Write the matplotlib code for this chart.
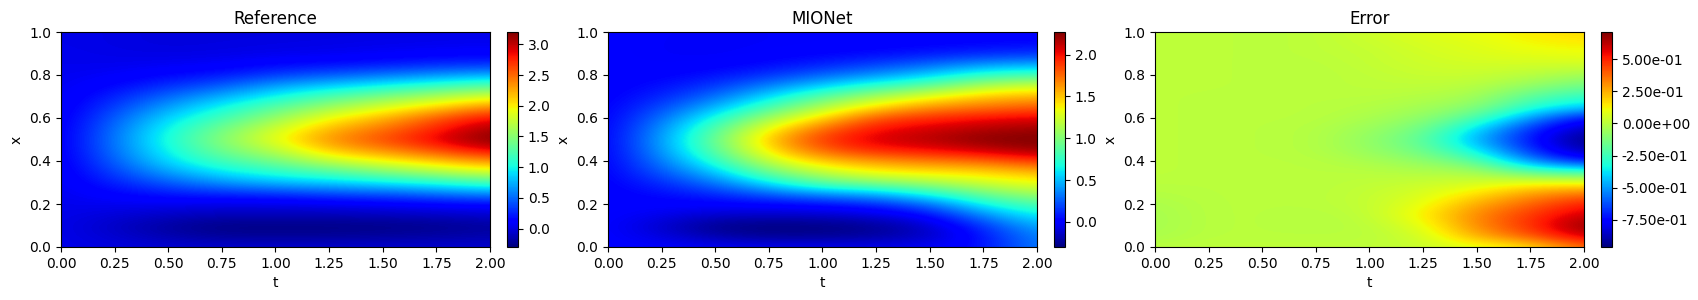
import numpy as np
import matplotlib
matplotlib.use("Agg")
import matplotlib.pyplot as plt

W, H = 1699, 300

titles = ["Reference", "MIONet", "Error"]
t_values = [0.0, 0.25, 0.5, 0.75, 1.0, 1.25, 1.5, 1.75, 2.0]
x_values = [0.0, 0.05, 0.1, 0.15, 0.2, 0.25, 0.3, 0.35, 0.4, 0.45, 0.5,
            0.55, 0.6, 0.65, 0.7, 0.75, 0.8, 0.85, 0.9, 0.95, 1.0]

# one line per t (t_values), each line runs along x (x_values)
u_reference = [
    [0.03, 0.03, 0.03, 0.03, 0.04, 0.04, 0.05, 0.05, 0.05, 0.05, 0.05, 0.05, 0.05, 0.05, 0.05, 0.05, 0.05, 0.04, 0.04, 0.03, 0.03],
    [0.0, -0.05, -0.08, -0.02, 0.05, 0.14, 0.25, 0.36, 0.46, 0.53, 0.55, 0.52, 0.45, 0.35, 0.25, 0.15, 0.08, 0.04, 0.02, 0.01, 0.01],
    [-0.04, -0.15, -0.20, -0.08, 0.05, 0.22, 0.45, 0.70, 0.90, 1.00, 1.05, 1.00, 0.88, 0.70, 0.50, 0.30, 0.15, 0.06, 0.01, -0.01, -0.01],
    [-0.05, -0.22, -0.28, -0.12, 0.02, 0.28, 0.65, 0.95, 1.20, 1.40, 1.50, 1.40, 1.20, 1.00, 0.75, 0.45, 0.22, 0.08, 0.02, 0.0, -0.01],
    [-0.05, -0.22, -0.28, -0.12, 0.03, 0.32, 0.78, 1.10, 1.40, 1.70, 1.90, 1.80, 1.55, 1.30, 1.00, 0.70, 0.35, 0.15, 0.04, 0.01, 0.0],
    [-0.05, -0.22, -0.28, -0.12, 0.05, 0.40, 0.85, 1.25, 1.75, 2.15, 2.35, 2.20, 1.95, 1.60, 1.25, 0.85, 0.45, 0.18, 0.05, 0.02, 0.0],
    [-0.05, -0.20, -0.27, -0.10, 0.08, 0.45, 0.95, 1.45, 1.95, 2.35, 2.60, 2.45, 2.20, 1.85, 1.45, 1.00, 0.55, 0.22, 0.08, 0.03, 0.02],
    [-0.05, -0.18, -0.25, -0.08, 0.12, 0.55, 1.05, 1.65, 2.15, 2.60, 2.90, 2.75, 2.55, 2.10, 1.65, 1.15, 0.65, 0.28, 0.10, 0.04, 0.02],
    [-0.05, -0.15, -0.20, -0.05, 0.15, 0.65, 1.20, 1.85, 2.35, 2.90, 3.20, 3.10, 2.85, 2.40, 1.85, 1.30, 0.75, 0.30, 0.12, 0.05, 0.03],
]
u_mionet = [
    [0.0, 0.0, 0.0, 0.0, 0.0, 0.0, 0.0, 0.0, 0.0, 0.0, 0.0, 0.0, 0.0, 0.0, 0.0, 0.0, 0.0, 0.0, 0.0, 0.0, 0.0],
    [-0.01, -0.08, -0.12, -0.05, 0.0, 0.05, 0.13, 0.24, 0.33, 0.40, 0.42, 0.38, 0.30, 0.20, 0.11, 0.05, 0.01, -0.01, -0.02, -0.02, -0.02],
    [-0.03, -0.20, -0.27, -0.12, 0.0, 0.13, 0.32, 0.52, 0.72, 0.87, 0.92, 0.85, 0.68, 0.48, 0.30, 0.16, 0.06, 0.0, -0.03, -0.03, -0.02],
    [-0.04, -0.25, -0.30, -0.13, 0.02, 0.28, 0.62, 0.95, 1.22, 1.42, 1.50, 1.35, 1.10, 0.82, 0.58, 0.35, 0.15, 0.04, 0.0, -0.02, -0.02],
    [-0.04, -0.25, -0.29, -0.12, 0.05, 0.42, 0.90, 1.22, 1.50, 1.78, 1.90, 1.75, 1.45, 1.15, 0.88, 0.55, 0.28, 0.10, 0.02, -0.01, -0.01],
    [-0.05, -0.22, -0.25, -0.08, 0.12, 0.50, 1.00, 1.38, 1.62, 1.95, 2.08, 2.00, 1.82, 1.45, 1.12, 0.75, 0.40, 0.18, 0.04, 0.0, -0.01],
    [-0.03, -0.14, -0.12, 0.03, 0.30, 0.70, 1.12, 1.42, 1.70, 2.00, 2.15, 2.08, 1.92, 1.65, 1.32, 0.90, 0.55, 0.28, 0.08, 0.01, -0.01],
    [0.05, 0.06, 0.15, 0.38, 0.66, 0.95, 1.25, 1.45, 1.75, 2.10, 2.25, 2.15, 2.00, 1.72, 1.50, 1.15, 0.75, 0.40, 0.12, 0.02, 0.0],
    [0.35, 0.37, 0.48, 0.65, 0.85, 1.12, 1.35, 1.55, 1.90, 2.20, 2.27, 2.20, 2.05, 1.80, 1.55, 1.25, 0.82, 0.45, 0.15, 0.03, 0.01],
]
u_error = [
    [0.0, -0.03, -0.04, -0.04, -0.03, -0.01, 0.0, 0.01, 0.01, 0.01, 0.01, 0.01, 0.01, 0.01, 0.01, 0.01, 0.01, 0.01, 0.01, 0.01, 0.01],
    [0.01, 0.0, 0.0, 0.0, 0.0, 0.0, 0.0, 0.0, 0.0, 0.0, 0.0, 0.0, 0.0, 0.0, 0.0, 0.01, 0.01, 0.01, 0.01, 0.01, 0.01],
    [0.01, 0.0, 0.0, 0.0, 0.0, 0.0, 0.0, 0.0, 0.0, 0.0, 0.0, 0.0, 0.0, 0.0, 0.0, 0.0, 0.0, 0.0, 0.0, 0.0, 0.0],
    [0.01, 0.0, -0.01, -0.01, 0.0, 0.0, 0.0, 0.0, 0.0, -0.01, -0.01, -0.01, 0.0, 0.0, 0.0, 0.0, 0.0, 0.0, 0.01, 0.01, 0.01],
    [0.01, 0.0, 0.0, 0.01, 0.02, 0.02, 0.01, 0.0, -0.03, -0.07, -0.08, -0.06, -0.03, -0.01, 0.0, 0.01, 0.01, 0.02, 0.02, 0.03, 0.04],
    [0.03, 0.04, 0.08, 0.13, 0.09, 0.06, 0.03, -0.02, -0.08, -0.15, -0.18, -0.14, -0.08, -0.04, -0.01, 0.01, 0.03, 0.04, 0.05, 0.06, 0.08],
    [0.08, 0.25, 0.32, 0.32, 0.26, 0.15, 0.05, -0.03, -0.18, -0.35, -0.46, -0.38, -0.22, -0.10, -0.04, 0.0, 0.03, 0.05, 0.07, 0.08, 0.10],
    [0.14, 0.40, 0.47, 0.46, 0.38, 0.28, 0.10, -0.20, -0.52, -0.68, -0.72, -0.68, -0.50, -0.30, -0.20, -0.08, 0.0, 0.05, 0.09, 0.12, 0.14],
    [0.38, 0.60, 0.70, 0.60, 0.52, 0.35, 0.10, -0.25, -0.72, -0.90, -0.96, -0.88, -0.75, -0.42, -0.28, -0.15, -0.05, 0.05, 0.10, 0.14, 0.18],
]
limits = [(-0.30, 3.20), (-0.30, 2.27), (-0.96, 0.71)]
cbar_ticks = [
    [0.0, 0.5, 1.0, 1.5, 2.0, 2.5, 3.0],
    [0.0, 0.5, 1.0, 1.5, 2.0],
    [-0.75, -0.5, -0.25, 0.0, 0.25, 0.5],
]
cbar_formats = ["%.1f", "%.1f", "%.2e"]

# pixel boxes (left, right) of the axes and colorbars, whole pixels so no gap shows
ax_boxes = [(61, 490), (608, 1037), (1155, 1584)]
cb_boxes = [(507, 518), (1054, 1065), (1601, 1612)]
top, bottom = 32, 247

fig = plt.figure(figsize=(W / 100, H / 100), dpi=100)
for i, u in enumerate([u_reference, u_mionet, u_error]):
    l, r = ax_boxes[i]
    ax = fig.add_axes([l / W, 1 - bottom / H, (r - l) / W, (bottom - top) / H])
    dt = t_values[1] - t_values[0]
    dx = x_values[1] - x_values[0]
    # half a cell outside so the first/last samples sit on the axes edges
    im = ax.imshow(np.array(u).T, origin="lower", cmap="jet", aspect="auto",
                   interpolation="bicubic", vmin=limits[i][0], vmax=limits[i][1],
                   extent=[t_values[0] - dt / 2, t_values[-1] + dt / 2,
                           x_values[0] - dx / 2, x_values[-1] + dx / 2])
    ax.set_xlim(0, 2)
    ax.set_ylim(0, 1)
    ax.set_xticks(np.arange(0, 2.01, 0.25))
    ax.set_yticks(np.arange(0, 1.01, 0.2))
    ax.set_xlabel("t")
    ax.set_ylabel("x")
    ax.set_title(titles[i])

    l, r = cb_boxes[i]
    cax = fig.add_axes([l / W, 1 - bottom / H, (r - l) / W, (bottom - top) / H])
    fig.colorbar(im, cax=cax, ticks=cbar_ticks[i], format=cbar_formats[i])

fig.savefig("out.png", dpi=100)
